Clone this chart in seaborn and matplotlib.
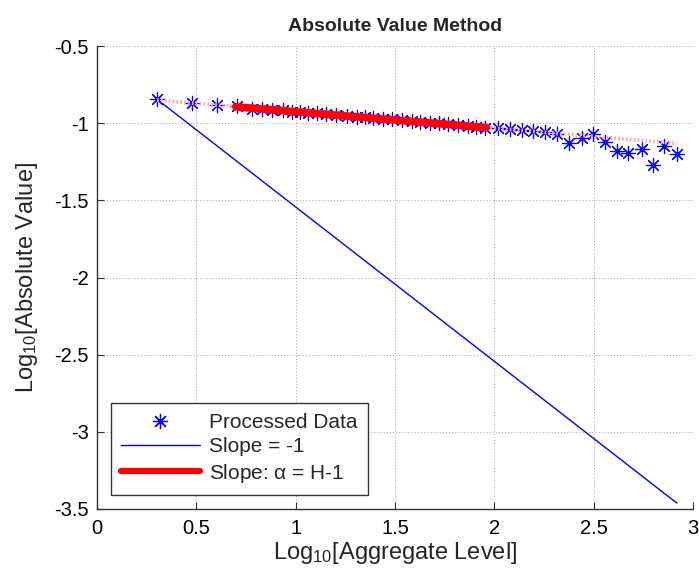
import matplotlib
matplotlib.use("Agg")
import matplotlib.pyplot as plt
from matplotlib.lines import Line2D
import numpy as np
import pandas as pd
import seaborn as sns

# ---- data ----
log_level = [0.302, 0.478, 0.604, 0.705, 0.780, 0.831, 0.881, 0.936, 0.982, 1.022,
             1.062, 1.107, 1.153, 1.203, 1.258, 1.309, 1.349, 1.389, 1.440, 1.485,
             1.535, 1.586, 1.626, 1.676, 1.721, 1.767, 1.817, 1.867, 1.908, 1.953,
             2.018, 2.079, 2.139, 2.195, 2.255, 2.315, 2.376, 2.441, 2.497, 2.557,
             2.617, 2.672, 2.743, 2.798, 2.853, 2.919]
log_abs = [-0.845, -0.869, -0.882, -0.892, -0.905, -0.909, -0.915, -0.917, -0.927, -0.926,
           -0.935, -0.937, -0.943, -0.946, -0.951, -0.958, -0.961, -0.965, -0.972, -0.975,
           -0.982, -0.987, -0.990, -0.998, -1.002, -1.006, -1.014, -1.018, -1.024, -1.030,
           -1.034, -1.041, -1.046, -1.052, -1.060, -1.072, -1.131, -1.098, -1.070, -1.120,
           -1.179, -1.195, -1.169, -1.271, -1.148, -1.202]

ref_x = [0.302, 2.919]          # slope = -1 reference
ref_y = [-0.845, -3.462]
fit_all_x = [0.302, 2.919]      # fitted line over full range (dotted)
fit_all_y = [-0.851, -1.131]
fit_x = [0.699, 1.959]          # fitted range (thick)
fit_y = [-0.894, -1.029]

x_ticks = [0, 0.5, 1, 1.5, 2, 2.5, 3]
x_tick_labels = ["0", "0.5", "1", "1.5", "2", "2.5", "3"]
y_ticks = [-3.5, -3, -2.5, -2, -1.5, -1, -0.5]
y_tick_labels = ["-3.5", "-3", "-2.5", "-2", "-1.5", "-1", "-0.5"]

title = "Absolute Value Method"
x_label = "Log$_{10}$[Aggregate Level]"
y_label = "Log$_{10}$[Absolute Value]"
legend_labels = ["Processed Data", "Slope = -1", r"Slope: $\alpha$ = H-1"]

# ---- style ----
sns.set_style("white")
plt.rcParams["font.family"] = ["Liberation Sans", "DejaVu Sans"]
plt.rcParams["mathtext.fontset"] = "custom"
plt.rcParams["mathtext.rm"] = "Liberation Sans"
plt.rcParams["mathtext.it"] = "Liberation Sans:italic"
plt.rcParams["mathtext.default"] = "regular"

fig = plt.figure(figsize=(6.99, 5.74), dpi=100)
ax = fig.add_axes([97 / 699, 1 - 509 / 574, (693 - 97) / 699, (509 - 46) / 574])

df = pd.DataFrame({"x": log_level, "y": log_abs})
df_ref = pd.DataFrame({"x": ref_x, "y": ref_y})
df_fa = pd.DataFrame({"x": fit_all_x, "y": fit_all_y})
df_fit = pd.DataFrame({"x": fit_x, "y": fit_y})

star = (8, 2, 0)
sns.scatterplot(data=df, x="x", y="y", marker=star, s=105, color="blue",
                linewidth=0.85, ax=ax, zorder=3, legend=False)
sns.lineplot(data=df_ref, x="x", y="y", color="blue", linewidth=1.0, ax=ax,
             zorder=3, legend=False)
sns.lineplot(data=df_fa, x="x", y="y", color="#ffabab", linewidth=2.8,
             linestyle=(0, (0.45, 0.55)), ax=ax, zorder=4, legend=False)
sns.lineplot(data=df_fit, x="x", y="y", color="red", linewidth=5.5, ax=ax,
             zorder=5, legend=False)

ax.set_xlim(0, 3)
ax.set_ylim(-3.5, -0.5)
ax.set_xticks(x_ticks)
ax.set_xticklabels(x_tick_labels)
ax.set_yticks(y_ticks)
ax.set_yticklabels(y_tick_labels)
ax.tick_params(direction="in", length=5, width=0.8, color="#333333",
               labelsize=14.5, labelcolor="black", bottom=True, left=True,
               top=False, right=False)
ax.tick_params(axis="y", pad=6)
ax.tick_params(axis="x", pad=7)
ax.grid(True, linestyle=(0, (1.2, 2.0)), color="#b0b0b0", linewidth=0.7)
for side in ["top", "right"]:
    ax.spines[side].set_visible(False)
for side in ["left", "bottom"]:
    ax.spines[side].set_color("#333333")
    ax.spines[side].set_linewidth(1.0)

ax.set_title(title, fontsize=14, fontweight="bold", pad=11)
ax.set_xlabel(x_label, fontsize=17, labelpad=2)
ax.set_ylabel(y_label, fontsize=17, labelpad=10)

handles = [
    Line2D([], [], marker=star, markersize=11, color="blue", linestyle="none",
           markeredgewidth=0.9),
    Line2D([], [], color="blue", linewidth=1.0),
    Line2D([], [], color="red", linewidth=4.5),
]
leg = ax.legend(handles, legend_labels, loc="lower left",
                bbox_to_anchor=(14 / 596, 14 / 463), borderaxespad=0,
                fontsize=15, handlelength=3.75, handletextpad=0.45,
                labelspacing=0.25, borderpad=0.5, fancybox=False,
                framealpha=1, edgecolor="#333333")
leg.get_frame().set_linewidth(1.0)

fig.savefig("out.png", dpi=100)
